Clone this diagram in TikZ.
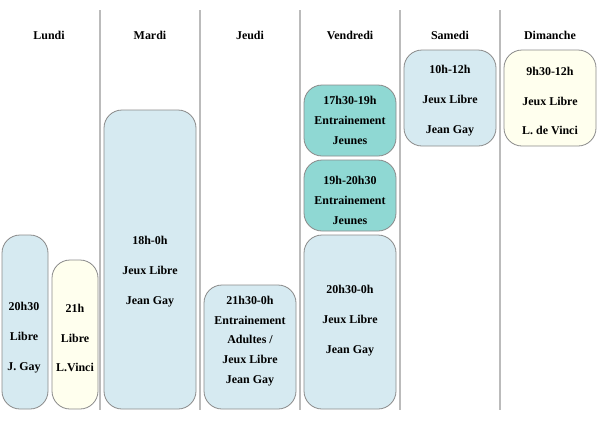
\documentclass[tikz,border=0pt]{standalone}
\usepackage{fontspec}
\setmainfont{Liberation Serif}
\usepackage{tikz}

\definecolor{bleu}{HTML}{D6EAF1}
\definecolor{creme}{HTML}{FFFFEE}
\definecolor{turquoise}{HTML}{8FD8D3}
\definecolor{trait}{HTML}{BBBBBB}
\definecolor{bord}{HTML}{8A8A8A}

\tikzset{
    sep/.style={draw=trait, line width=2.5bp},
    creneau/.style={draw=bord, line width=0.8bp, rounded corners=18bp},
    jour/.style={font=\fontsize{12}{14}\selectfont\bfseries},
    large/.style={align=center, font=\fontsize{12}{30}\selectfont\bfseries},
    serre/.style={align=center, font=\fontsize{12}{19.8}\selectfont\bfseries}
}

\begin{document}
\begin{tikzpicture}[x=1bp,y=-1bp]
    \useasboundingbox (0,0) rectangle (610,420);
    \foreach \x in {100,200,...,500}
        \draw [sep] (\x,10) -- (\x,410);

    \node [jour] (lundi) at (49,35) {Lundi};
    \node [jour] (mardi) at (150,35) {Mardi};
    \node [jour] (jeudi) at (250,35) {Jeudi};
    \node [jour] (vendredi) at (350,35) {Vendredi};
    \node [jour] (samedi) at (450,35) {Samedi};
    \node [jour] (dimanche) at (550,35) {Dimanche};

    \filldraw [creneau, fill=bleu] (2,235) rectangle (48,409);
    \filldraw [creneau, fill=creme] (52,260) rectangle (98,409);
    \filldraw [creneau, fill=bleu] (104,110) rectangle (196,409);
    \filldraw [creneau, fill=bleu] (204,285) rectangle (296,409);
    \filldraw [creneau, fill=turquoise] (304,85) rectangle (396,156);
    \filldraw [creneau, fill=turquoise] (304,160) rectangle (396,231);
    \filldraw [creneau, fill=bleu] (304,235) rectangle (396,409);
    \filldraw [creneau, fill=bleu] (404,50) rectangle (496,146);
    \filldraw [creneau, fill=creme] (504,50) rectangle (596,146);

    \node [large] (lun1) at (24,338) {20h30\\Libre\\J. Gay};
    \node [large] (lun2) at (75,338) {21h\\Libre\\L.Vinci};
    \node [large] (mar) at (150,272) {18h-0h\\Jeux Libre\\Jean Gay};
    \node [serre] (jeu) at (250,341) {21h30-0h\\Entrainement\\Adultes /\\Jeux Libre\\Jean Gay};
    \node [serre] (ven1) at (350,120.5) {17h30-19h\\Entrainement\\Jeunes};
    \node [serre] (ven2) at (350,200.5) {19h-20h30\\Entrainement\\Jeunes};
    \node [large] (ven3) at (350,321) {20h30-0h\\Jeux Libre\\Jean Gay};
    \node [large] (sam) at (450,101) {10h-12h\\Jeux Libre\\Jean Gay};
    \node [large] (dim) at (550,101) {9h30-12h\\Jeux Libre\\L. de Vinci};
\end{tikzpicture}
\end{document}
